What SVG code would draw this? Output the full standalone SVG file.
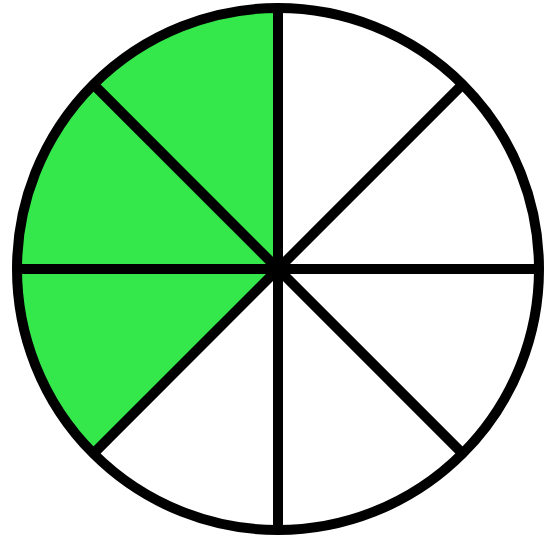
<svg xmlns="http://www.w3.org/2000/svg" width="544" height="541" viewBox="0 0 544 541">
  <style>
    .ln { stroke: #000; stroke-width: 10; stroke-linecap: butt; fill: none; }
    .green { fill: #34e84c; stroke: none; }
  </style>
  <rect width="544" height="541" fill="#fff"/>
  <g id="shaded">
    <path class="green" d="M278,269 L278,8 A261,261 0 0 0 93.4,453.6 Z"/>
  </g>
  <g id="dividers">
    <line class="ln" x1="278" y1="8" x2="278" y2="530"/>
    <line class="ln" x1="17" y1="269" x2="539" y2="269"/>
    <line class="ln" x1="93.4" y1="84.4" x2="462.6" y2="453.6"/>
    <line class="ln" x1="93.4" y1="453.6" x2="462.6" y2="84.4"/>
    <circle cx="278" cy="269" r="9" fill="#000"/>
  </g>
  <g id="outline">
    <circle class="ln" cx="278" cy="269" r="261"/>
  </g>
</svg>
